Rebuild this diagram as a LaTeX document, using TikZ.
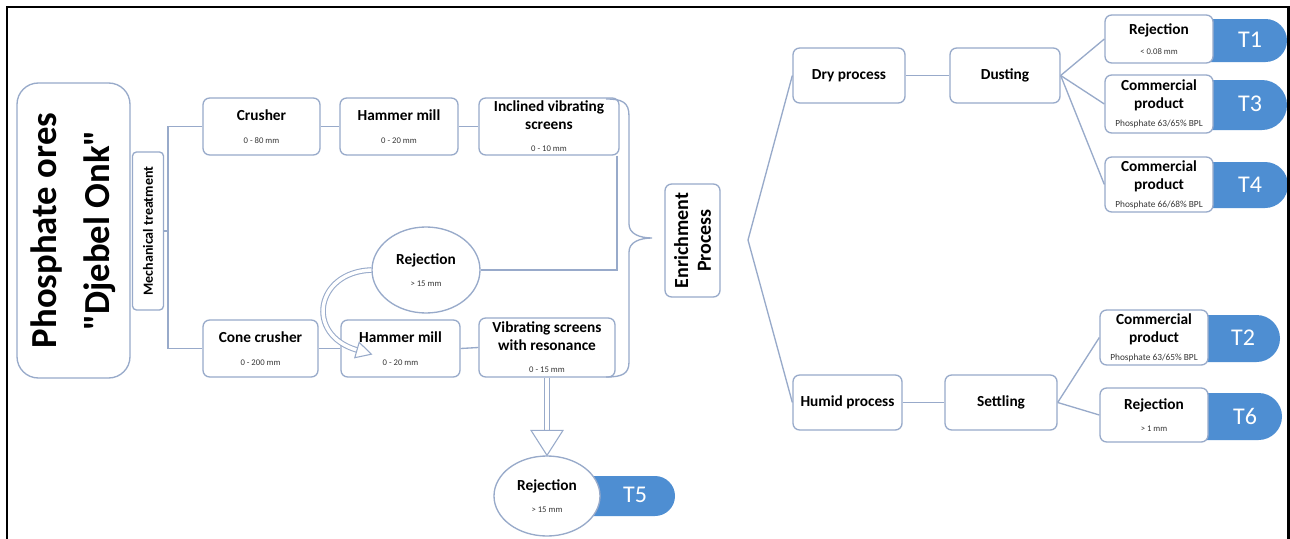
\documentclass[tikz,border=0pt]{standalone}
\usepackage{fontspec}
\setmainfont{Carlito}
\newfontfamily\plainfont{Carlito}
\usetikzlibrary{shapes.geometric,shapes.misc}
\definecolor{edgec}{RGB}{152,170,202}
\definecolor{tabc}{RGB}{78,142,210}
\definecolor{subc}{RGB}{55,55,55}
\newcommand{\tf}{\fontsize{11.5}{13.5}\selectfont\bfseries}
\newcommand{\smf}{\fontsize{6.5}{7.5}\selectfont\mdseries\color{subc}}
\newcommand{\bplf}{\fontsize{7}{8}\selectfont\mdseries\color{subc}}
\begin{document}
\begin{tikzpicture}[x=0.75pt,y=-0.75pt,
 box/.style={draw=edgec,line width=1pt,rounded corners=5pt,fill=white,inner sep=0pt,align=center,font=\tf},
 ell/.style={ellipse,draw=edgec,line width=1pt,fill=white,inner sep=0pt,align=center,font=\tf},
 conn/.style={draw=edgec,line width=1pt},
 hollow/.style={draw=edgec,line width=0.8pt,double=white,double distance=3pt},
 headst/.style={draw=edgec,line width=0.8pt,fill=white,line join=miter},
 tab/.style={rounded rectangle,rounded rectangle west arc=none,fill=tabc,inner sep=0pt},
 tabtext/.style={text=white,font=\fontsize{18}{20}\selectfont,inner sep=0pt},
]
\useasboundingbox (0,0) rectangle (1290,539);
\fill[white] (0,0) rectangle (1290,539);

% tabs (behind boxes)
\node[tab,minimum width=87*.75pt,minimum height=43*.75pt] (tab1) at (1243.5,40.5) {};
\node[tab,minimum width=87*.75pt,minimum height=50*.75pt] (tab3) at (1243.5,105) {};
\node[tab,minimum width=88*.75pt,minimum height=46*.75pt] (tab4) at (1244,185) {};
\node[tab,minimum width=85*.75pt,minimum height=47*.75pt] (tab2) at (1237.5,338.5) {};
\node[tab,minimum width=87*.75pt,minimum height=47*.75pt] (tab6) at (1238.5,416.5) {};
\node[tab,minimum width=115*.75pt,minimum height=40*.75pt] (tab5) at (617.5,496) {};

% left part
\node[box,rotate=90,minimum width=295*.75pt,minimum height=113*.75pt,rounded corners=16pt,
  font=\plainfont\fontsize{27.5}{40}\selectfont\bfseries] (ore) at (73.5,230.5) {Phosphate ores\\"Djebel Onk"};
\node[box,rotate=90,minimum width=158*.75pt,minimum height=31*.75pt,rounded corners=3pt,
  font=\fontsize{10.5}{12}\selectfont\bfseries] (mech) at (148,231) {Mechanical treatment};

\node[box,minimum width=117*.75pt,minimum height=57*.75pt] (crusher) at (261.5,126.5) {Crusher\\[4pt]{\smf 0 - 80 mm}};
\node[box,minimum width=118*.75pt,minimum height=57*.75pt] (hammer1) at (399,126.5) {Hammer mill\\[4pt]{\smf 0 - 20 mm}};
\node[box,minimum width=140*.75pt,minimum height=57*.75pt] (incl) at (549,126.5) {Inclined vibrating\\screens\\[3pt]{\smf 0 - 10 mm}};
\node[box,minimum width=115*.75pt,minimum height=57*.75pt] (cone) at (260.5,348.5) {Cone crusher\\[4pt]{\smf 0 - 200 mm}};
\node[box,minimum width=119*.75pt,minimum height=57*.75pt] (hammer2) at (400.5,348.5) {Hammer mill\\[4pt]{\smf 0 - 20 mm}};
\node[box,minimum width=136*.75pt,minimum height=59*.75pt] (vib) at (547,347.5) {Vibrating screens\\with resonance\\[3pt]{\smf 0 - 15 mm}};
\node[ell,minimum width=108*.75pt,minimum height=86*.75pt] (rej1) at (426,270) {Rejection\\[3pt]{\smf > 15 mm}};
\node[ell,minimum width=106*.75pt,minimum height=80*.75pt] (rej5) at (547,496) {Rejection\\[3pt]{\smf > 15 mm}};

% enrichment part
\node[box,rotate=90,minimum width=113*.75pt,minimum height=55*.75pt,
  font=\fontsize{15}{17}\selectfont\bfseries] (enrich) at (692.5,240.5) {Enrichment\\Process};
\node[box,minimum width=112*.75pt,minimum height=55*.75pt] (dry) at (849,75.5) {Dry process};
\node[box,minimum width=110*.75pt,minimum height=55*.75pt] (dusting) at (1005,75.5) {Dusting};
\node[box,minimum width=108*.75pt,minimum height=48*.75pt] (rejT1) at (1159,39) {Rejection\\[1pt]{\smf < 0.08 mm}};
\node[box,minimum width=108*.75pt,minimum height=58*.75pt] (comT3) at (1159,104) {Commercial\\product\\{\bplf Phosphate 63/65\% BPL}};
\node[box,minimum width=108*.75pt,minimum height=55*.75pt] (comT4) at (1159,184.5) {Commercial\\product\\{\bplf Phosphate 66/68\% BPL}};
\node[box,minimum width=109*.75pt,minimum height=55*.75pt] (humid) at (847.5,402.5) {Humid process};
\node[box,minimum width=112*.75pt,minimum height=55*.75pt] (settling) at (1001,402.5) {Settling};
\node[box,minimum width=108*.75pt,minimum height=55*.75pt] (comT2) at (1154,337.5) {Commercial\\product\\{\bplf Phosphate 63/65\% BPL}};
\node[box,minimum width=108*.75pt,minimum height=54*.75pt] (rejT6) at (1154,415) {Rejection\\[3pt]{\smf > 1 mm}};

% tab texts
\node[tabtext] (t1) at (1250,40) {T1};
\node[tabtext] (t3) at (1250,104) {T3};
\node[tabtext] (t4) at (1250,185) {T4};
\node[tabtext] (t2) at (1243,338) {T2};
\node[tabtext] (t6) at (1245,416) {T6};
\node[tabtext] (t5) at (635,495) {T5};

% connectors left
\coordinate (sp) at (168,231);
\draw[conn] (mech.south) -- (sp);
\draw[conn] (crusher.west) -| (sp) |- (cone.west);
\draw[conn] (crusher.east) -- (hammer1.west);
\draw[conn] (hammer1.east) -- (incl.west);
\draw[conn] (cone.east) -- (hammer2.west);
\draw[conn] (hammer2.east) -- (vib.west);
\draw[conn] ([xshift=-2pt]incl.south east) |- (rej1.east);

% brace
\coordinate (btip) at (652,238);
\draw[conn] (606,99) .. controls (622,99) and (629,102) .. (629,116) -- (629,224)
  .. controls (629,234) and (640,238) .. (btip)
  .. controls (640,238) and (629,242) .. (629,252) -- (629,362)
  .. controls (629,374) and (622,377) .. (606,377);

% curved hollow arrow
\coordinate (cb) at (357,350);
\draw[hollow,double distance=2.6pt] (rej1.west) .. controls (315,272) and (305,335) .. (cb);
\draw[headst] (354.8,357.7) -- (371.4,354.2) -- (359.2,342.3) -- cycle;

% down hollow arrow
\coordinate (db) at (547,431);
\draw[hollow] (vib.south) -- (db);
\draw[headst] (rej5.north) -- ++(-16,-25) -- ++(32,0) -- cycle;

% right connectors
\coordinate (ef) at (748,240);
\draw[conn] (dry.west) -- (ef) -- (humid.west);
\draw[conn] (dry.east) -- (dusting.west);
\draw[conn] (humid.east) -- (settling.west);
\draw[conn] (dusting.east) -- (rejT1.west);
\draw[conn] (dusting.east) -- (comT3.west);
\draw[conn] (dusting.east) -- (comT4.west);
\draw[conn] (settling.east) -- (comT2.west);
\draw[conn] (settling.east) -- (rejT6.west);

% frame
\draw[black,line width=2pt] (7,539) -- (7,7) -- (1288.5,7) -- (1288.5,539);
\end{tikzpicture}
\end{document}
